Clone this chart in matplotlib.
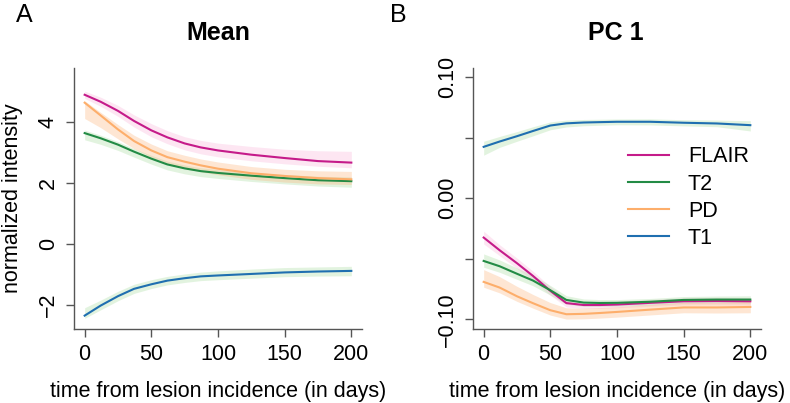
import matplotlib
matplotlib.use("Agg")
import matplotlib.pyplot as plt

plt.rcParams['font.family'] = ['Liberation Sans', 'DejaVu Sans']

days = [0, 12, 25, 37, 50, 62, 75, 87, 100, 125, 150, 175, 200]
series = ["FLAIR", "T2", "PD", "T1"]

# Panel A: Mean (normalized intensity)
mean_line = {
    "FLAIR": [4.90, 4.67, 4.37, 4.04, 3.73, 3.50, 3.30, 3.17, 3.07, 2.93, 2.82, 2.72, 2.67],
    "T2":    [3.64, 3.47, 3.26, 3.03, 2.80, 2.61, 2.48, 2.39, 2.33, 2.24, 2.16, 2.09, 2.06],
    "PD":    [4.64, 4.22, 3.76, 3.38, 3.07, 2.85, 2.70, 2.58, 2.47, 2.32, 2.23, 2.16, 2.12],
    "T1":    [-2.36, -2.03, -1.72, -1.48, -1.33, -1.21, -1.13, -1.07, -1.04, -0.99, -0.94, -0.91, -0.89],
}
mean_upper = {
    "FLAIR": [5.02, 4.82, 4.55, 4.24, 3.95, 3.72, 3.52, 3.40, 3.31, 3.20, 3.11, 3.06, 3.04],
    "T2":    [3.74, 3.57, 3.36, 3.13, 2.91, 2.72, 2.59, 2.50, 2.44, 2.35, 2.28, 2.22, 2.20],
    "PD":    [4.70, 4.32, 3.92, 3.57, 3.28, 3.06, 2.91, 2.79, 2.69, 2.54, 2.45, 2.40, 2.38],
    "T1":    [-2.10, -1.85, -1.56, -1.33, -1.18, -1.07, -0.99, -0.93, -0.89, -0.83, -0.78, -0.76, -0.74],
}
mean_lower = {
    "FLAIR": [4.78, 4.52, 4.19, 3.84, 3.52, 3.29, 3.09, 2.96, 2.86, 2.73, 2.63, 2.55, 2.50],
    "T2":    [3.42, 3.27, 3.07, 2.85, 2.62, 2.43, 2.30, 2.21, 2.15, 2.05, 1.97, 1.90, 1.86],
    "PD":    [4.12, 3.82, 3.45, 3.13, 2.85, 2.64, 2.48, 2.37, 2.27, 2.12, 2.03, 1.97, 1.95],
    "T1":    [-2.45, -2.17, -1.87, -1.63, -1.47, -1.35, -1.27, -1.21, -1.18, -1.13, -1.08, -1.06, -1.05],
}

# Panel B: PC 1
pc_line = {
    "FLAIR": [-0.0325, -0.0430, -0.0537, -0.0642, -0.0765, -0.0866, -0.0882, -0.0882, -0.0878, -0.0864, -0.0851, -0.0849, -0.0851],
    "T2":    [-0.0518, -0.0562, -0.0624, -0.0680, -0.0760, -0.0840, -0.0862, -0.0865, -0.0864, -0.0855, -0.0840, -0.0837, -0.0837],
    "PD":    [-0.0691, -0.0738, -0.0810, -0.0867, -0.0925, -0.0958, -0.0955, -0.0948, -0.0939, -0.0920, -0.0902, -0.0902, -0.0898],
    "T1":    [0.0424, 0.0468, 0.0512, 0.0555, 0.0600, 0.0618, 0.0625, 0.0628, 0.0631, 0.0631, 0.0623, 0.0617, 0.0603],
}
pc_upper = {
    "FLAIR": [-0.0272, -0.0385, -0.0495, -0.0603, -0.0730, -0.0836, -0.0854, -0.0855, -0.0851, -0.0836, -0.0822, -0.0819, -0.0820],
    "T2":    [-0.0460, -0.0510, -0.0576, -0.0636, -0.0721, -0.0805, -0.0832, -0.0837, -0.0837, -0.0828, -0.0812, -0.0808, -0.0806],
    "PD":    [-0.0590, -0.0648, -0.0728, -0.0795, -0.0862, -0.0905, -0.0908, -0.0903, -0.0896, -0.0878, -0.0860, -0.0858, -0.0852],
    "T1":    [0.0470, 0.0510, 0.0550, 0.0590, 0.0630, 0.0645, 0.0650, 0.0652, 0.0654, 0.0655, 0.0648, 0.0645, 0.0640],
}
pc_lower = {
    "FLAIR": [-0.0378, -0.0475, -0.0580, -0.0682, -0.0802, -0.0898, -0.0911, -0.0910, -0.0905, -0.0892, -0.0880, -0.0880, -0.0882],
    "T2":    [-0.0570, -0.0612, -0.0670, -0.0723, -0.0800, -0.0875, -0.0893, -0.0894, -0.0892, -0.0883, -0.0868, -0.0866, -0.0867],
    "PD":    [-0.0735, -0.0782, -0.0852, -0.0908, -0.0965, -0.0998, -0.0996, -0.0990, -0.0982, -0.0964, -0.0946, -0.0948, -0.0946],
    "T1":    [0.0355, 0.0420, 0.0470, 0.0515, 0.0565, 0.0588, 0.0598, 0.0602, 0.0606, 0.0605, 0.0597, 0.0590, 0.0555],
}

line_colors = {"FLAIR": "#C51B8A", "T2": "#238B45", "PD": "#FDAE6B", "T1": "#1F6FB0"}
fill_colors = {"FLAIR": "#F9B4DA", "T2": "#A8DDA0", "PD": "#FDB47A", "T1": "#A8DDA0"}
fill_alpha = 0.33

W, H = 790, 403
fig = plt.figure(figsize=(W / 100, H / 100), dpi=100)

def px_axes(x0, x1, y0, y1):
    return fig.add_axes([x0 / W, 1 - y1 / H, (x1 - x0) / W, (y1 - y0) / H])

axA = px_axes(74, 362, 68, 329)
axB = px_axes(473, 761, 68, 329)

FS = 15.5
axis_col = "#555555"

def style(ax):
    for s in ["top", "right"]:
        ax.spines[s].set_visible(False)
    for s in ["left", "bottom"]:
        ax.spines[s].set_color(axis_col)
        ax.spines[s].set_linewidth(1.0)
    ax.tick_params(axis="both", direction="out", length=6, width=1.0, color=axis_col,
                   labelsize=FS, labelcolor="black", pad=5)
    ax.set_xlim(-8, 208)
    ax.set_xticks([0, 50, 100, 150, 200])
    for lab in ax.get_yticklabels():
        lab.set_rotation(90)
        lab.set_va("center")

for ax, lo, hi, ln in ((axA, mean_lower, mean_upper, mean_line),
                       (axB, pc_lower, pc_upper, pc_line)):
    for name in series:
        ax.fill_between(days, lo[name], hi[name], color=fill_colors[name],
                        alpha=fill_alpha, linewidth=0)
    for name in series:
        ax.plot(days, ln[name], color=line_colors[name], lw=1.5, label=name,
                solid_joinstyle="round")

axA.set_ylim(-2.8, 5.78)
axA.set_yticks([-2, 0, 2, 4])
axA.set_yticklabels(["\u22122", "0", "2", "4"])
axB.set_ylim(-0.108, 0.1075)
axB.set_yticks([-0.10, -0.05, 0.0, 0.05, 0.10])
axB.set_yticklabels(["\u22120.10", "", "0.00", "", "0.10"])

style(axA)
style(axB)

axB.legend(loc="upper left", bbox_to_anchor=(0.538, 0.70), frameon=False,
           fontsize=FS, borderpad=0, borderaxespad=0, handlelength=1.9,
           handletextpad=0.88, labelspacing=0.29)

def ftext(x, y, s, **kw):
    fig.text(x / W, 1 - y / H, s, **kw)

ftext(218, 40, "Mean", fontsize=18, fontweight="bold", ha="center", va="baseline")
ftext(616, 40, "PC 1", fontsize=18, fontweight="bold", ha="center", va="baseline")
ftext(16, 22, "A", fontsize=18, ha="left", va="baseline")
ftext(390, 22, "B", fontsize=18, ha="left", va="baseline")
ftext(218, 397, "time from lesion incidence (in days)", fontsize=FS, ha="center", va="baseline")
ftext(617, 397, "time from lesion incidence (in days)", fontsize=FS, ha="center", va="baseline")
ftext(13, 198, "normalized intensity", fontsize=FS, ha="center", va="center", rotation=90)

fig.savefig("out.png", dpi=100)
